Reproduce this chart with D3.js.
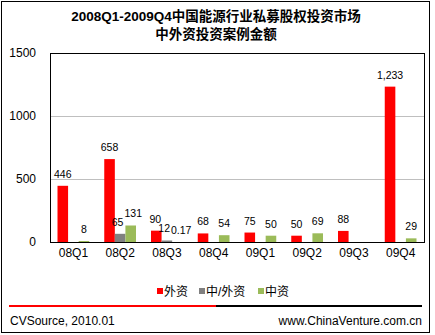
<!DOCTYPE html>
<html>
<head>
<meta charset="utf-8">
<script src="https://cdn.jsdelivr.net/npm/d3@7"></script>
<style>
  html, body { margin: 0; padding: 0; background: #fff; }
  svg { display: block; }
  text { font-family: "Liberation Sans", Arial, "Noto Sans CJK SC", sans-serif; }
  .cjk { font-family: "Liberation Sans", "Noto Sans CJK SC", sans-serif; }
</style>
</head>
<body>
<svg id="chart" width="435" height="335"></svg>
<script>
// Quarterly PE investment in China's energy sector, by capital origin
const quarters = ["08Q1", "08Q2", "08Q3", "08Q4", "09Q1", "09Q2", "09Q3", "09Q4"];
const seriesNames = ["外资", "中/外资", "中资"];
const foreignVals = [446, 658, 90, 68, 75, 50, 88, 1233];
const jointVals = [null, 65, 12, null, null, null, null, null];
const domesticVals = [8, 131, 0.17, 54, 50, 69, null, 29];
const seriesColors = ["#ff0000", "#808080", "#9bbb59"];
const yTicks = [0, 500, 1000, 1500];
const titleLines = ["2008Q1-2009Q4中国能源行业私募股权投资市场", "中外资投资案例金额"];
const sourceText = "CVSource, 2010.01";
const siteText = "www.ChinaVenture.com.cn";

const seriesVals = [foreignVals, jointVals, domesticVals];
const svg = d3.select("#chart");

// outer frame
svg.append("rect").attr("x", 1.5).attr("y", 1.5).attr("width", 428).attr("height", 331)
  .attr("fill", "none").attr("stroke", "#000").attr("stroke-width", 1);

// title
svg.selectAll("text.title").data(titleLines).enter().append("text")
  .attr("class", "title cjk")
  .attr("x", 216).attr("y", (d, i) => 21 + i * 18)
  .attr("text-anchor", "middle")
  .attr("font-size", 13.5).attr("font-weight", "bold")
  .text(d => d);

const plot = { left: 50, right: 424, top: 53, bottom: 242 };

const x0 = d3.scaleBand().domain(quarters).range([plot.left, plot.right]);
const x1 = d3.scaleBand().domain(seriesNames).range([7.5, x0.bandwidth() - 7.5]);
const y = d3.scaleLinear().domain([0, 1500]).range([plot.bottom, plot.top]);

// gridlines
svg.append("g").selectAll("line").data(yTicks.filter(t => t > 0 && t < 1500)).enter().append("line")
  .attr("x1", plot.left).attr("x2", plot.right)
  .attr("y1", d => Math.round(y(d)) + 0.5).attr("y2", d => Math.round(y(d)) + 0.5)
  .attr("stroke", "#bfbfbf").attr("stroke-width", 1);

// y axis labels
const yAxis = d3.axisLeft(y).tickValues(yTicks).tickSize(0).tickPadding(14).tickFormat(d3.format("d"));
const gy = svg.append("g").attr("transform", `translate(${plot.left},0)`).call(yAxis);
gy.select(".domain").remove();
gy.selectAll("text").attr("font-size", 12).attr("fill", "#000")
  .attr("font-family", "Liberation Sans, Arial, sans-serif");

// x axis labels
const xAxis = d3.axisBottom(x0).tickSize(0).tickPadding(6);
const gx = svg.append("g").attr("transform", `translate(0,${plot.bottom})`).call(xAxis);
gx.select(".domain").remove();
gx.selectAll("text").attr("font-size", 12).attr("fill", "#000")
  .attr("font-family", "Liberation Sans, Arial, sans-serif");

// bars
const fmt = d3.format(",");
const rows = [];
quarters.forEach((q, qi) => {
  seriesNames.forEach((s, si) => {
    const v = seriesVals[si][qi];
    if (v !== null && v !== undefined) rows.push({ q, s, si, v });
  });
});

svg.append("g").selectAll("rect").data(rows).enter().append("rect")
  .attr("x", d => x0(d.q) + x1(d.s))
  .attr("y", d => y(d.v))
  .attr("width", x1.bandwidth())
  .attr("height", d => Math.max(0, plot.bottom - y(d.v)))
  .attr("fill", d => seriesColors[d.si]);

// value labels, nudged sideways where neighbours collide
const labelSize = 10.5;
const labels = svg.append("g").selectAll("text").data(rows).enter().append("text")
  .attr("x", d => x0(d.q) + x1(d.s) + x1.bandwidth() / 2)
  .attr("y", d => y(d.v) - 8)
  .attr("text-anchor", "middle")
  .attr("font-size", labelSize).attr("fill", "#000")
  .text(d => fmt(d.v));

const boxes = [];
labels.each(function (d) {
  const w = this.getComputedTextLength();
  boxes.push({ node: this, d, cx: +this.getAttribute("x"), by: +this.getAttribute("y"), w });
});
for (let i = 1; i < boxes.length; i++) {
  const a = boxes[i - 1], b = boxes[i];
  if (a.d.q !== b.d.q) continue;
  const vOverlap = Math.abs(a.by - b.by) < labelSize + 1;
  const hOverlap = (a.cx + a.w / 2 + 1) - (b.cx - b.w / 2);
  if (vOverlap && hOverlap > 0) {
    a.cx -= hOverlap / 2;
    b.cx += hOverlap / 2;
  }
}
boxes.forEach(b => b.node.setAttribute("x", b.cx));

// plot border
svg.append("rect")
  .attr("x", plot.left + 0.5).attr("y", plot.top + 0.5)
  .attr("width", plot.right - plot.left).attr("height", plot.bottom - plot.top)
  .attr("fill", "none").attr("stroke", "#000").attr("stroke-width", 1);

// legend
const legendX = [157, 199, 258];
const lg = svg.append("g").selectAll("g").data(seriesNames).enter().append("g")
  .attr("transform", (d, i) => `translate(${legendX[i]},288)`);
lg.append("rect").attr("width", 6).attr("height", 6).attr("fill", (d, i) => seriesColors[i]);
lg.append("text").attr("class", "cjk").attr("x", 7).attr("y", 7.5)
  .attr("font-size", 12).attr("fill", "#000").text(d => d);

// separator rule
svg.append("line").attr("x1", 9).attr("x2", 216).attr("y1", 306).attr("y2", 306)
  .attr("stroke", "#ff0000").attr("stroke-width", 2);
svg.append("line").attr("x1", 216).attr("x2", 422).attr("y1", 306).attr("y2", 306)
  .attr("stroke", "#000").attr("stroke-width", 2);

// footer
svg.append("text").attr("x", 10).attr("y", 325).attr("font-size", 12).text(sourceText);
svg.append("text").attr("x", 422).attr("y", 325).attr("text-anchor", "end")
  .attr("font-size", 12).text(siteText);
</script>
</body>
</html>
